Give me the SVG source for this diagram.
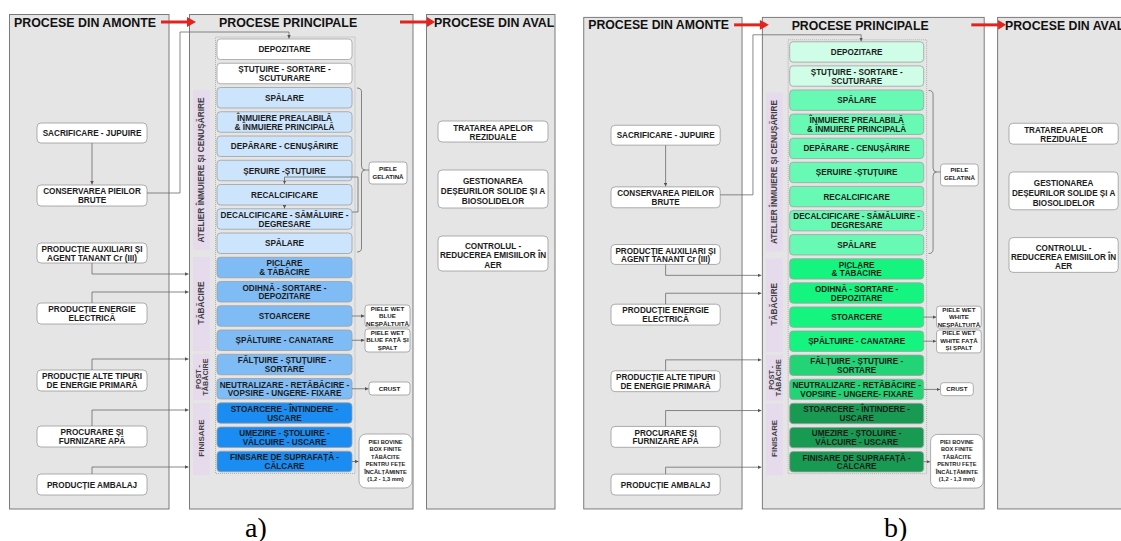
<svg xmlns="http://www.w3.org/2000/svg" width="1121" height="541" viewBox="0 0 1121 541">
<defs>
<style>
text{font-family:"Liberation Sans",Arial,sans-serif;font-weight:bold;fill:#1c1c1c}
.panel{fill:#e5e5e5;stroke:#7a7a7a;stroke-width:1}
.ptitle{font-size:12.4px;fill:#111}
.box{stroke:#a0a0a0;stroke-width:0.8}
.ob{fill:#fff;stroke:#9a9a9a;stroke-width:0.8}
.t{font-size:8.2px;text-anchor:middle}
.ts{font-size:6.2px;text-anchor:middle}
.tx{font-size:5.7px;text-anchor:middle}
.side{fill:#e6daed}
.vl{font-size:8.3px;fill:#3f3f3f;text-anchor:middle}
.vs{font-size:7.2px}
.vf{font-size:8px}
.dot{fill:none;stroke:#a5a5a5;stroke-width:0.8;stroke-dasharray:1 1}
.conn path{fill:none;stroke:#6a6a6a;stroke-width:0.8}
.red{stroke:#e3231d;stroke-width:3}
.redh{fill:#e3231d}
.lbl{font-family:"Liberation Serif","Times New Roman",serif;font-weight:normal;font-size:28px;fill:#000}
#panel-a .cw{fill:#ffffff}
#panel-a .ca{fill:#cde5fc}
#panel-a .ct{fill:#7fbcf5}
#panel-a .cp{fill:#7fbcf5}
#panel-a .cf{fill:#1a8cf2}
#panel-b .cw{fill:#cffde7}
#panel-b .ca{fill:#68fab4}
#panel-b .ct{fill:#14f47f}
#panel-b .cp{fill:#22d475}
#panel-b .cf{fill:#189a52}
</style>
<marker id="ah" viewBox="0 0 6 6" refX="6" refY="3" markerWidth="3.5" markerHeight="3.5" markerUnits="userSpaceOnUse" orient="auto"><path d="M0,0 L6,3 L0,6 z" fill="#555"/></marker>
</defs>

<!-- ================= PANEL A ================= -->
<g id="panel-a">
  <g id="amonte-a"><rect class="panel" x="9.5" y="14.5" width="159.5" height="494.5"/><text class="ptitle" x="14" y="26.5">PROCESE DIN AMONTE</text></g>
  <g id="principale-a"><rect class="panel" x="189.5" y="14.5" width="223.5" height="494.5"/><text class="ptitle" x="219" y="27">PROCESE PRINCIPALE</text><rect class="dot" x="215.5" y="37" width="139.5" height="436.5"/></g>
  <g id="aval-a"><rect class="panel" x="426.5" y="14.5" width="128.5" height="494.5"/><text class="ptitle" x="434" y="27">PROCESE DIN AVAL</text></g>

  <g id="side-atelier-a"><rect class="side" x="193" y="90" width="17" height="160"/><text class="vl" transform="translate(204,170) rotate(-90)">ATELIER ÎNMUIERE ȘI CENUȘĂRIRE</text></g>
  <g id="side-tabacire-a"><rect class="side" x="193" y="257" width="17" height="94"/><text class="vl" transform="translate(204,303) rotate(-90)">TĂBĂCIRE</text></g>
  <g id="side-post-a"><rect class="side" x="193" y="354" width="17" height="46"/><text class="vl vs" transform="translate(201,377) rotate(-90)">POST -</text><text class="vl vs" transform="translate(207.8,377) rotate(-90)">TĂBĂCIRE</text></g>
  <g id="side-finisare-a"><rect class="side" x="193" y="403" width="17" height="72"/><text class="vl vf" transform="translate(204,438) rotate(-90)">FINISARE</text></g>

  <g id="sacrificare-a"><rect class="ob" x="37" y="123" width="110" height="20" rx="4"/><text class="t" x="92" y="136">SACRIFICARE - JUPUIRE</text></g>
  <g id="conservarea-a"><rect class="ob" x="37" y="185" width="110" height="21" rx="4"/><text class="t" x="92" y="194.3">CONSERVAREA PIEILOR<tspan x="92" dy="8.8">BRUTE</tspan></text></g>
  <g id="auxiliari-a"><rect class="ob" x="37" y="243" width="110" height="20" rx="4"/><text class="t" x="92" y="252.2">PRODUCȚIE AUXILIARI ȘI<tspan x="92" dy="8.8">AGENT TANANT Cr (III)</tspan></text></g>
  <g id="energie-a"><rect class="ob" x="37" y="303" width="110" height="21" rx="4"/><text class="t" x="92" y="312.3">PRODUCȚIE ENERGIE<tspan x="92" dy="8.8">ELECTRICĂ</tspan></text></g>
  <g id="alte-a"><rect class="ob" x="37" y="370" width="110" height="21" rx="4"/><text class="t" x="92" y="379.3">PRODUCȚIE ALTE TIPURI<tspan x="92" dy="8.8">DE ENERGIE PRIMARĂ</tspan></text></g>
  <g id="apa-a"><rect class="ob" x="37" y="426" width="110" height="21" rx="4"/><text class="t" x="92" y="435.3">PROCURARE ȘI<tspan x="92" dy="8.8">FURNIZARE APĂ</tspan></text></g>
  <g id="ambalaj-a"><rect class="ob" x="37" y="474" width="110" height="21" rx="4"/><text class="t" x="92" y="487.5">PRODUCȚIE AMBALAJ</text></g>

  <g id="depozitare-a"><rect class="box cw" x="217" y="39" width="135" height="20.5" rx="3.5"/><text class="t" x="284.5" y="52.25">DEPOZITARE</text></g>
  <g id="stutuire-a"><rect class="box cw" x="217" y="63.25" width="135" height="20.5" rx="3.5"/><text class="t" x="284.5" y="72.3">ȘTUȚUIRE - SORTARE -<tspan x="284.5" dy="8.8">SCUTURARE</tspan></text></g>
  <g id="spalare1-a"><rect class="box ca" x="217" y="87.5" width="135" height="20.5" rx="3.5"/><text class="t" x="284.5" y="100.75">SPĂLARE</text></g>
  <g id="inmuiere-a"><rect class="box ca" x="217" y="111.75" width="135" height="20.5" rx="3.5"/><text class="t" x="284.5" y="120.8">ÎNMUIERE PREALABILĂ<tspan x="284.5" dy="8.8">&amp; ÎNMUIERE PRINCIPALĂ</tspan></text></g>
  <g id="deparare-a"><rect class="box ca" x="217" y="136" width="135" height="20.5" rx="3.5"/><text class="t" x="284.5" y="149.25">DEPĂRARE - CENUȘĂRIRE</text></g>
  <g id="seruire-a"><rect class="box ca" x="217" y="160.25" width="135" height="20.5" rx="3.5"/><text class="t" x="284.5" y="173.5">ȘERUIRE -ȘTUȚUIRE</text></g>
  <g id="recalcificare-a"><rect class="box ca" x="217" y="184.5" width="135" height="20.5" rx="3.5"/><text class="t" x="284.5" y="197.75">RECALCIFICARE</text></g>
  <g id="decalcificare-a"><rect class="box ca" x="217" y="208.75" width="135" height="20.5" rx="3.5"/><text class="t" x="284.5" y="217.8">DECALCIFICARE - SĂMĂLUIRE -<tspan x="284.5" dy="8.8">DEGRESARE</tspan></text></g>
  <g id="spalare2-a"><rect class="box ca" x="217" y="233" width="135" height="20.5" rx="3.5"/><text class="t" x="284.5" y="246.25">SPĂLARE</text></g>
  <g id="piclare-a"><rect class="box ct" x="217" y="257.25" width="135" height="20.5" rx="3.5"/><text class="t" x="284.5" y="266.3">PICLARE<tspan x="284.5" dy="8.8">&amp; TĂBĂCIRE</tspan></text></g>
  <g id="odihna-a"><rect class="box ct" x="217" y="281.5" width="135" height="20.5" rx="3.5"/><text class="t" x="284.5" y="290.55">ODIHNĂ - SORTARE -<tspan x="284.5" dy="8.8">DEPOZITARE</tspan></text></g>
  <g id="stoarcere-a"><rect class="box ct" x="217" y="305.75" width="135" height="20.5" rx="3.5"/><text class="t" x="284.5" y="319">STOARCERE</text></g>
  <g id="spaltuire-a"><rect class="box ct" x="217" y="330" width="135" height="20.5" rx="3.5"/><text class="t" x="284.5" y="343.25">ȘPĂLTUIRE - CANATARE</text></g>
  <g id="faltuire-a"><rect class="box cp" x="217" y="354.25" width="135" height="20.5" rx="3.5"/><text class="t" x="284.5" y="363.3">FĂLȚUIRE - ȘTUȚUIRE -<tspan x="284.5" dy="8.8">SORTARE</tspan></text></g>
  <g id="neutralizare-a"><rect class="box cp" x="217" y="378.5" width="135" height="20.5" rx="3.5"/><text class="t" x="284.5" y="387.55">NEUTRALIZARE - RETĂBĂCIRE -<tspan x="284.5" dy="8.8">VOPSIRE - UNGERE- FIXARE</tspan></text></g>
  <g id="intindere-a"><rect class="box cf" x="217" y="402.75" width="135" height="20.5" rx="3.5"/><text class="t" x="284.5" y="411.8">STOARCERE - ÎNTINDERE -<tspan x="284.5" dy="8.8">USCARE</tspan></text></g>
  <g id="umezire-a"><rect class="box cf" x="217" y="427" width="135" height="20.5" rx="3.5"/><text class="t" x="284.5" y="436.05">UMEZIRE - ȘTOLUIRE -<tspan x="284.5" dy="8.8">VĂLCUIRE - USCARE</tspan></text></g>
  <g id="finisare-a"><rect class="box cf" x="217" y="451.25" width="135" height="20.5" rx="3.5"/><text class="t" x="284.5" y="460.3">FINISARE DE SUPRAFAȚĂ -<tspan x="284.5" dy="8.8">CĂLCARE</tspan></text></g>

  <g id="gelatina-a"><rect class="ob" x="369" y="162" width="38" height="22" rx="3"/><text class="ts" x="388" y="170.5">PIELE<tspan x="388" dy="8">GELATINĂ</tspan></text></g>
  <g id="wet1-a"><rect class="ob" x="365" y="305" width="45" height="22" rx="3"/><text class="ts" x="387.5" y="310.7">PIELE WET<tspan x="387.5" dy="7.5">BLUE</tspan><tspan x="387.5" dy="7.5">NEȘPĂLTUITĂ</tspan></text></g>
  <g id="wet2-a"><rect class="ob" x="365" y="329" width="45" height="23" rx="3"/><text class="ts" x="387.5" y="334.5">PIELE WET<tspan x="387.5" dy="7.5">BLUE  FAȚĂ ȘI</tspan><tspan x="387.5" dy="7.5">ȘPALT</tspan></text></g>
  <g id="crust-a"><rect class="ob" x="369" y="382" width="41" height="13" rx="3"/><text class="ts" x="389.5" y="390.8">CRUST</text></g>
  <g id="bovine-a"><rect class="ob" x="359" y="434" width="53" height="54" rx="7"/><text class="tx" x="385.5" y="443.5">PIEI BOVINE<tspan x="385.5" dy="7.5">BOX FINITE</tspan><tspan x="385.5" dy="7.5">TĂBĂCITE</tspan><tspan x="385.5" dy="7.5">PENTRU FEȚE</tspan><tspan x="385.5" dy="7.5">ÎNCĂLȚĂMINTE</tspan><tspan x="385.5" dy="7.5">(1,2 - 1,3 mm)</tspan></text></g>

  <g id="tratarea-a"><rect class="ob" x="438" y="121" width="110" height="21" rx="4"/><text class="t" x="493" y="131">TRATAREA APELOR<tspan x="493" dy="8.8">REZIDUALE</tspan></text></g>
  <g id="gestionarea-a"><rect class="ob" x="438" y="170" width="110" height="38" rx="4"/><text class="t" x="493" y="183.8">GESTIONAREA<tspan x="493" dy="10.2">DEȘEURILOR SOLIDE ȘI A</tspan><tspan x="493" dy="10.2">BIOSOLIDELOR</tspan></text></g>
  <g id="controlul-a"><rect class="ob" x="438" y="236" width="110" height="35" rx="4"/><text class="t" x="493" y="249.3">CONTROLUL -<tspan x="493" dy="9.1">REDUCEREA EMISIILOR ÎN</tspan><tspan x="493" dy="9.1">AER</tspan></text></g>

  <g id="connectors-a" class="conn">
    <path d="M92,143 V184.5" marker-end="url(#ah)"/>
    <path d="M147,193 H180 V32 H289 V38.5" marker-end="url(#ah)"/>
    <path d="M92,263 V274 H188.5" marker-end="url(#ah)"/>
    <path d="M92,303 V292 H188.5" marker-end="url(#ah)"/>
    <path d="M92,370 V359 H188.5" marker-end="url(#ah)"/>
    <path d="M92,426 V410 H188.5" marker-end="url(#ah)"/>
    <path d="M92,474 V467 H188.5" marker-end="url(#ah)"/>
    <path d="M352,212 H358 V177 H284.5 V184" marker-end="url(#ah)"/>
    <path d="M284.5,205 V208.5" marker-end="url(#ah)"/>
    <path d="M357,88 Q361.5,88 361.5,92 V166 Q361.5,170 365,170 Q361.5,170 361.5,174 V248 Q361.5,252 357,252"/>
    <path d="M365,170 H369"/>
    <path d="M352,316 H364.5" marker-end="url(#ah)"/>
    <path d="M352,340.25 H364.5" marker-end="url(#ah)"/>
    <path d="M352,388.75 H368.5" marker-end="url(#ah)"/>
    <path d="M352,461.5 H358.5" marker-end="url(#ah)"/>
    <line class="red" x1="161" y1="22" x2="188" y2="22"/><polygon class="redh" points="187,17 196,22 187,27"/>
    <line class="red" x1="400" y1="22" x2="428" y2="22"/><polygon class="redh" points="427,17 435,22 427,27"/>
  </g>
</g>

<!-- ================= PANEL B ================= -->
<g id="panel-b" transform="matrix(0.9925 0 0 0.994 574.3 3)">
  <g id="amonte-b"><rect class="panel" x="9.5" y="14.5" width="159.5" height="494.5"/><text class="ptitle" x="14" y="26.5">PROCESE DIN AMONTE</text></g>
  <g id="principale-b"><rect class="panel" x="189.5" y="14.5" width="223.5" height="494.5"/><text class="ptitle" x="219" y="27">PROCESE PRINCIPALE</text><rect class="dot" x="215.5" y="37" width="139.5" height="436.5"/></g>
  <g id="aval-b"><rect class="panel" x="426.5" y="14.5" width="128.5" height="494.5"/><text class="ptitle" x="434" y="27">PROCESE DIN AVAL</text></g>

  <g id="side-atelier-b"><rect class="side" x="193" y="90" width="17" height="160"/><text class="vl" transform="translate(204,170) rotate(-90)">ATELIER ÎNMUIERE ȘI CENUȘĂRIRE</text></g>
  <g id="side-tabacire-b"><rect class="side" x="193" y="257" width="17" height="94"/><text class="vl" transform="translate(204,303) rotate(-90)">TĂBĂCIRE</text></g>
  <g id="side-post-b"><rect class="side" x="193" y="354" width="17" height="46"/><text class="vl vs" transform="translate(201,377) rotate(-90)">POST -</text><text class="vl vs" transform="translate(207.8,377) rotate(-90)">TĂBĂCIRE</text></g>
  <g id="side-finisare-b"><rect class="side" x="193" y="403" width="17" height="72"/><text class="vl vf" transform="translate(204,438) rotate(-90)">FINISARE</text></g>

  <g id="sacrificare-b"><rect class="ob" x="37" y="123" width="110" height="20" rx="4"/><text class="t" x="92" y="136">SACRIFICARE - JUPUIRE</text></g>
  <g id="conservarea-b"><rect class="ob" x="37" y="185" width="110" height="21" rx="4"/><text class="t" x="92" y="194.3">CONSERVAREA PIEILOR<tspan x="92" dy="8.8">BRUTE</tspan></text></g>
  <g id="auxiliari-b"><rect class="ob" x="37" y="243" width="110" height="20" rx="4"/><text class="t" x="92" y="252.2">PRODUCȚIE AUXILIARI ȘI<tspan x="92" dy="8.8">AGENT TANANT Cr (III)</tspan></text></g>
  <g id="energie-b"><rect class="ob" x="37" y="303" width="110" height="21" rx="4"/><text class="t" x="92" y="312.3">PRODUCȚIE ENERGIE<tspan x="92" dy="8.8">ELECTRICĂ</tspan></text></g>
  <g id="alte-b"><rect class="ob" x="37" y="370" width="110" height="21" rx="4"/><text class="t" x="92" y="379.3">PRODUCȚIE ALTE TIPURI<tspan x="92" dy="8.8">DE ENERGIE PRIMARĂ</tspan></text></g>
  <g id="apa-b"><rect class="ob" x="37" y="426" width="110" height="21" rx="4"/><text class="t" x="92" y="435.3">PROCURARE ȘI<tspan x="92" dy="8.8">FURNIZARE APĂ</tspan></text></g>
  <g id="ambalaj-b"><rect class="ob" x="37" y="474" width="110" height="21" rx="4"/><text class="t" x="92" y="487.5">PRODUCȚIE AMBALAJ</text></g>

  <g id="depozitare-b"><rect class="box cw" x="217" y="39" width="135" height="20.5" rx="3.5"/><text class="t" x="284.5" y="52.25">DEPOZITARE</text></g>
  <g id="stutuire-b"><rect class="box cw" x="217" y="63.25" width="135" height="20.5" rx="3.5"/><text class="t" x="284.5" y="72.3">ȘTUȚUIRE - SORTARE -<tspan x="284.5" dy="8.8">SCUTURARE</tspan></text></g>
  <g id="spalare1-b"><rect class="box ca" x="217" y="87.5" width="135" height="20.5" rx="3.5"/><text class="t" x="284.5" y="100.75">SPĂLARE</text></g>
  <g id="inmuiere-b"><rect class="box ca" x="217" y="111.75" width="135" height="20.5" rx="3.5"/><text class="t" x="284.5" y="120.8">ÎNMUIERE PREALABILĂ<tspan x="284.5" dy="8.8">&amp; ÎNMUIERE PRINCIPALĂ</tspan></text></g>
  <g id="deparare-b"><rect class="box ca" x="217" y="136" width="135" height="20.5" rx="3.5"/><text class="t" x="284.5" y="149.25">DEPĂRARE - CENUȘĂRIRE</text></g>
  <g id="seruire-b"><rect class="box ca" x="217" y="160.25" width="135" height="20.5" rx="3.5"/><text class="t" x="284.5" y="173.5">ȘERUIRE -ȘTUȚUIRE</text></g>
  <g id="recalcificare-b"><rect class="box ca" x="217" y="184.5" width="135" height="20.5" rx="3.5"/><text class="t" x="284.5" y="197.75">RECALCIFICARE</text></g>
  <g id="decalcificare-b"><rect class="box ca" x="217" y="208.75" width="135" height="20.5" rx="3.5"/><text class="t" x="284.5" y="217.8">DECALCIFICARE - SĂMĂLUIRE -<tspan x="284.5" dy="8.8">DEGRESARE</tspan></text></g>
  <g id="spalare2-b"><rect class="box ca" x="217" y="233" width="135" height="20.5" rx="3.5"/><text class="t" x="284.5" y="246.25">SPĂLARE</text></g>
  <g id="piclare-b"><rect class="box ct" x="217" y="257.25" width="135" height="20.5" rx="3.5"/><text class="t" x="284.5" y="266.3">PICLARE<tspan x="284.5" dy="8.8">&amp; TĂBĂCIRE</tspan></text></g>
  <g id="odihna-b"><rect class="box ct" x="217" y="281.5" width="135" height="20.5" rx="3.5"/><text class="t" x="284.5" y="290.55">ODIHNĂ - SORTARE -<tspan x="284.5" dy="8.8">DEPOZITARE</tspan></text></g>
  <g id="stoarcere-b"><rect class="box ct" x="217" y="305.75" width="135" height="20.5" rx="3.5"/><text class="t" x="284.5" y="319">STOARCERE</text></g>
  <g id="spaltuire-b"><rect class="box ct" x="217" y="330" width="135" height="20.5" rx="3.5"/><text class="t" x="284.5" y="343.25">ȘPĂLTUIRE - CANATARE</text></g>
  <g id="faltuire-b"><rect class="box cp" x="217" y="354.25" width="135" height="20.5" rx="3.5"/><text class="t" x="284.5" y="363.3">FĂLȚUIRE - ȘTUȚUIRE -<tspan x="284.5" dy="8.8">SORTARE</tspan></text></g>
  <g id="neutralizare-b"><rect class="box cp" x="217" y="378.5" width="135" height="20.5" rx="3.5"/><text class="t" x="284.5" y="387.55">NEUTRALIZARE - RETĂBĂCIRE -<tspan x="284.5" dy="8.8">VOPSIRE - UNGERE- FIXARE</tspan></text></g>
  <g id="intindere-b"><rect class="box cf" x="217" y="402.75" width="135" height="20.5" rx="3.5"/><text class="t" x="284.5" y="411.8">STOARCERE - ÎNTINDERE -<tspan x="284.5" dy="8.8">USCARE</tspan></text></g>
  <g id="umezire-b"><rect class="box cf" x="217" y="427" width="135" height="20.5" rx="3.5"/><text class="t" x="284.5" y="436.05">UMEZIRE - ȘTOLUIRE -<tspan x="284.5" dy="8.8">VĂLCUIRE - USCARE</tspan></text></g>
  <g id="finisare-b"><rect class="box cf" x="217" y="451.25" width="135" height="20.5" rx="3.5"/><text class="t" x="284.5" y="460.3">FINISARE DE SUPRAFAȚĂ -<tspan x="284.5" dy="8.8">CĂLCARE</tspan></text></g>

  <g id="gelatina-b"><rect class="ob" x="369" y="162" width="38" height="22" rx="3"/><text class="ts" x="388" y="170.5">PIELE<tspan x="388" dy="8">GELATINĂ</tspan></text></g>
  <g id="wet1-b"><rect class="ob" x="365" y="305" width="45" height="22" rx="3"/><text class="ts" x="387.5" y="310.7">PIELE WET<tspan x="387.5" dy="7.5">WHITE</tspan><tspan x="387.5" dy="7.5">NEȘPĂLTUITĂ</tspan></text></g>
  <g id="wet2-b"><rect class="ob" x="365" y="329" width="45" height="23" rx="3"/><text class="ts" x="387.5" y="334.5">PIELE WET<tspan x="387.5" dy="7.5">WHITE  FAȚĂ</tspan><tspan x="387.5" dy="7.5">ȘI ȘPALT</tspan></text></g>
  <g id="crust-b"><rect class="ob" x="369" y="382" width="33" height="13" rx="3"/><text class="ts" x="385.5" y="390.8">CRUST</text></g>
  <g id="bovine-b"><rect class="ob" x="359" y="434" width="53" height="54" rx="7"/><text class="tx" x="385.5" y="443.5">PIEI BOVINE<tspan x="385.5" dy="7.5">BOX FINITE</tspan><tspan x="385.5" dy="7.5">TĂBĂCITE</tspan><tspan x="385.5" dy="7.5">PENTRU FEȚE</tspan><tspan x="385.5" dy="7.5">ÎNCĂLȚĂMINTE</tspan><tspan x="385.5" dy="7.5">(1,2 - 1,3 mm)</tspan></text></g>

  <g id="tratarea-b"><rect class="ob" x="438" y="121" width="110" height="21" rx="4"/><text class="t" x="493" y="131">TRATAREA APELOR<tspan x="493" dy="8.8">REZIDUALE</tspan></text></g>
  <g id="gestionarea-b"><rect class="ob" x="438" y="170" width="110" height="38" rx="4"/><text class="t" x="493" y="183.8">GESTIONAREA<tspan x="493" dy="10.2">DEȘEURILOR SOLIDE ȘI A</tspan><tspan x="493" dy="10.2">BIOSOLIDELOR</tspan></text></g>
  <g id="controlul-b"><rect class="ob" x="438" y="236" width="110" height="35" rx="4"/><text class="t" x="493" y="249.3">CONTROLUL -<tspan x="493" dy="9.1">REDUCEREA EMISIILOR ÎN</tspan><tspan x="493" dy="9.1">AER</tspan></text></g>

  <g id="connectors-b" class="conn">
    <path d="M92,143 V184.5" marker-end="url(#ah)"/>
    <path d="M147,193 H180 V32 H289 V38.5" marker-end="url(#ah)"/>
    <path d="M92,263 V274 H188.5" marker-end="url(#ah)"/>
    <path d="M92,303 V292 H188.5" marker-end="url(#ah)"/>
    <path d="M92,370 V359 H188.5" marker-end="url(#ah)"/>
    <path d="M92,426 V410 H188.5" marker-end="url(#ah)"/>
    <path d="M92,474 V467 H188.5" marker-end="url(#ah)"/>
    <path d="M357,88 Q361.5,88 361.5,92 V166 Q361.5,170 365,170 Q361.5,170 361.5,174 V248 Q361.5,252 357,252"/>
    <path d="M365,170 H369"/>
    <path d="M352,316 H364.5" marker-end="url(#ah)"/>
    <path d="M352,340.25 H364.5" marker-end="url(#ah)"/>
    <path d="M352,388.75 H368.5" marker-end="url(#ah)"/>
    <path d="M352,461.5 H358.5" marker-end="url(#ah)"/>
    <line class="red" x1="161" y1="22" x2="188" y2="22"/><polygon class="redh" points="187,17 196,22 187,27"/>
    <line class="red" x1="400" y1="22" x2="428" y2="22"/><polygon class="redh" points="427,17 435,22 427,27"/>
  </g>
</g>

<text class="lbl" x="245" y="536.5">a)</text>
<text class="lbl" x="884" y="536.5">b)</text>
</svg>
